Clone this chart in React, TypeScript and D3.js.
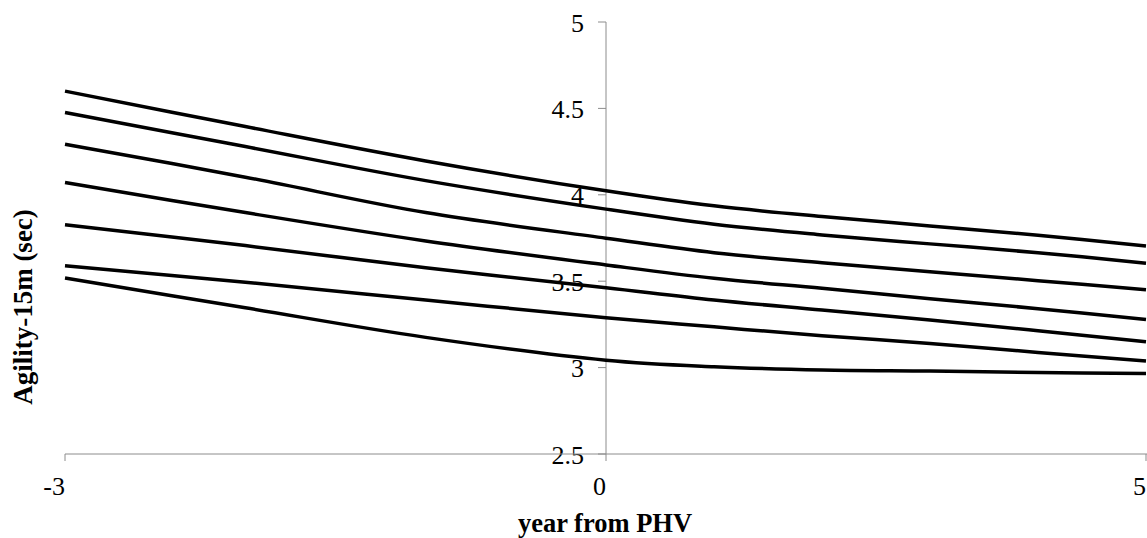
import * as d3 from "d3";

// years from peak height velocity
const years = [-3, -2, -1, 0, 1, 2, 3, 4, 5];

// seven curves, top to bottom (seconds)
const line1 = [4.6, 4.395, 4.196, 4.023, 3.936, 3.874, 3.82, 3.766, 3.704];
const line2 = [4.476, 4.279, 4.082, 3.917, 3.83, 3.768, 3.716, 3.665, 3.604];
const line3 = [4.293, 4.102, 3.897, 3.749, 3.665, 3.607, 3.555, 3.503, 3.451];
const line4 = [4.071, 3.897, 3.733, 3.594, 3.517, 3.459, 3.399, 3.341, 3.279];
const line5 = [3.827, 3.706, 3.578, 3.462, 3.391, 3.333, 3.275, 3.213, 3.149];
const line6 = [3.59, 3.494, 3.391, 3.289, 3.236, 3.184, 3.14, 3.088, 3.038];
const line7 = [3.519, 3.346, 3.175, 3.043, 3.005, 2.986, 2.98, 2.972, 2.966];

const xTicks = [-3, 0, 5];
const yTicks = [2.5, 3, 3.5, 4, 4.5, 5];

const W = 1147;
const H = 538;
const axisColor = "#8c8c8c";
const font = "'Liberation Serif', 'DejaVu Serif', serif";

export default function App() {
  // the x axis is not evenly spaced: -3..0 and 0..5 take the same width
  const x = d3.scaleLinear().domain([-3, 0, 5]).range([65, 606, 1146]);
  const y = d3.scaleLinear().domain([2.5, 5]).range([454, 22]);

  const line = d3
    .line<number>()
    .x((_, i) => x(years[i]))
    .y(d => y(d))
    .curve(d3.curveCatmullRom.alpha(0.5));

  const series = [line1, line2, line3, line4, line5, line6, line7];

  return (
    <svg
      width={W}
      height={H}
      style={{ position: "absolute", left: 0, top: 0, background: "#fff" }}
    >
      {/* y axis at x = 0 */}
      <line x1={x(0)} x2={x(0)} y1={y(5)} y2={y(2.5)} stroke={axisColor} strokeWidth={1} />
      {yTicks.map(t => (
        <g key={t}>
          <line x1={x(0) - 8} x2={x(0)} y1={y(t)} y2={y(t)} stroke={axisColor} strokeWidth={1} />
          <text
            x={584}
            y={y(t) + 1}
            textAnchor="end"
            dominantBaseline="central"
            fontFamily={font}
            fontSize={26}
          >
            {t}
          </text>
        </g>
      ))}

      {/* x axis at bottom */}
      <line x1={x(-3)} x2={x(5) + 1} y1={y(2.5)} y2={y(2.5)} stroke={axisColor} strokeWidth={1} />
      {xTicks.map(t => (
        <g key={t}>
          <line x1={x(t)} x2={x(t)} y1={y(2.5)} y2={y(2.5) + 7} stroke={axisColor} strokeWidth={1} />
          <text x={x(t)} y={495} textAnchor="end" fontFamily={font} fontSize={26}>
            {t}
          </text>
        </g>
      ))}

      {series.map((s, i) => (
        <path key={i} d={line(s) || ""} fill="none" stroke="#000" strokeWidth={3.5} />
      ))}

      <text
        x={605}
        y={532}
        textAnchor="middle"
        fontFamily={font}
        fontWeight="bold"
        fontSize={26.5}
      >
        year from PHV
      </text>
      <text
        transform="translate(32, 307) rotate(-90)"
        textAnchor="middle"
        fontFamily={font}
        fontWeight="bold"
        fontSize={27}
      >
        Agility-15m (sec)
      </text>
    </svg>
  );
}
